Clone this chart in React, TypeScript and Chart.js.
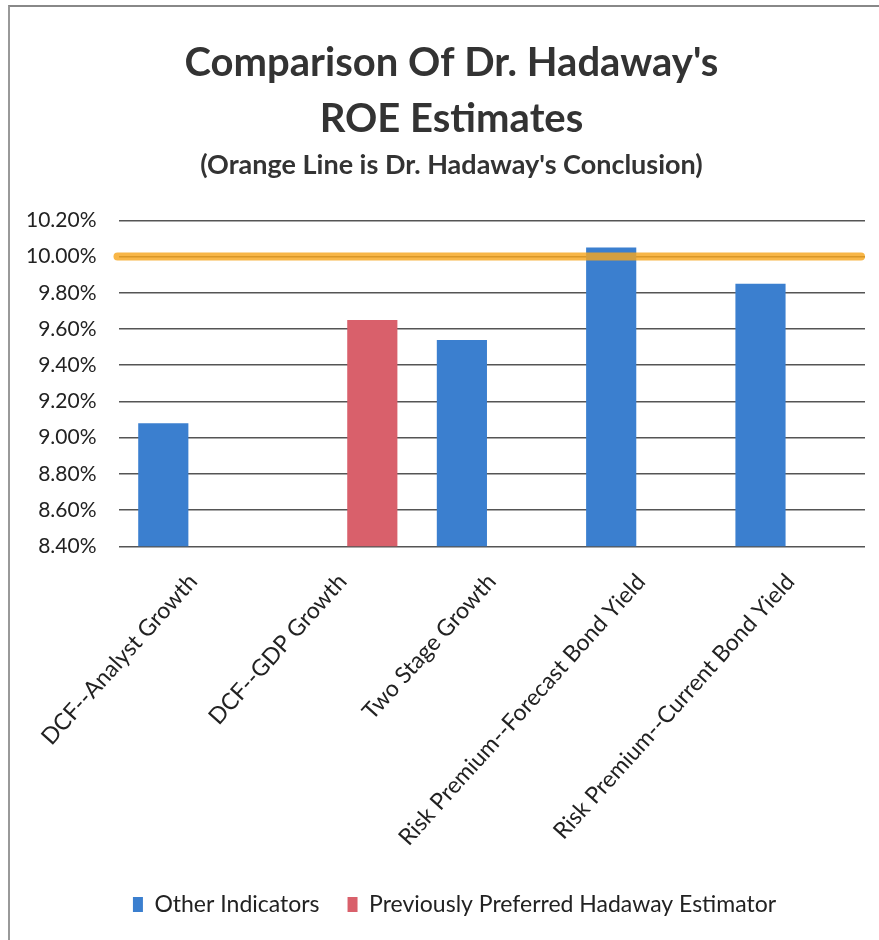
import React, { useEffect, useRef } from "react";
import { Chart, registerables } from "chart.js";

Chart.register(...registerables);

const categories = [
  "DCF--Analyst Growth",
  "DCF--GDP Growth",
  "Two Stage Growth",
  "Risk Premium--Forecast Bond Yield",
  "Risk Premium--Current Bond Yield",
];
const otherIndicators: (number | null)[] = [9.08, null, 9.54, 10.05, 9.85];
const previouslyPreferred: (number | null)[] = [null, 9.65, null, null, null];
const seriesNames = ["Other Indicators", "Previously Preferred Hadaway Estimator"];
const conclusionValue = 10.0;
const yMin = 8.4;
const yMax = 10.2;
const yStep = 0.2;
const titleLines = ["Comparison Of Dr. Hadaway's", "ROE Estimates"];
const subtitleText = "(Orange Line is Dr. Hadaway's Conclusion)";

const FONT = "Lato, 'Open Sans', sans-serif";

const conclusionLine = {
  id: "conclusionLine",
  afterDatasetsDraw(chart: any) {
    const { ctx, chartArea, scales } = chart;
    const y = scales.y.getPixelForValue(conclusionValue);
    ctx.save();
    ctx.lineCap = "round";
    ctx.strokeStyle = "rgba(246,166,30,0.82)";
    ctx.lineWidth = 8;
    ctx.beginPath();
    ctx.moveTo(chartArea.left - 1, y);
    ctx.lineTo(chartArea.right - 4, y);
    ctx.stroke();
    ctx.restore();
  },
};

// The original page is centred a little to the right of the canvas centre.
const shiftTextBoxes = {
  id: "shiftTextBoxes",
  afterLayout(chart: any) {
    for (const b of chart.boxes) {
      if ("axis" in b) continue;
      const dx = b === chart.legend ? 20 : 17;
      b.left += dx;
      b.right += dx;
    }
  },
};

export default function App() {
  const ref = useRef<HTMLCanvasElement | null>(null);

  useEffect(() => {
    document.body.style.margin = "0";
    const canvas = ref.current;
    if (!canvas) return;
    const chart = new Chart(canvas, {
      type: "bar",
      data: {
        labels: categories,
        datasets: [
          {
            label: seriesNames[0],
            data: otherIndicators,
            backgroundColor: "#3b7fcf",
            categoryPercentage: 0.8,
            barPercentage: 0.84,
          },
          {
            label: seriesNames[1],
            data: previouslyPreferred,
            backgroundColor: "#d9606b",
            categoryPercentage: 0.8,
            barPercentage: 0.84,
          },
        ],
      },
      plugins: [conclusionLine, shiftTextBoxes],
      options: {
        animation: false,
        responsive: false,
        maintainAspectRatio: false,
        layout: { padding: { left: 4, right: 14, top: 0, bottom: 14 } },
        plugins: {
          title: {
            display: true,
            text: titleLines,
            color: "#333",
            font: { family: FONT, size: 40, weight: "bold", lineHeight: 1.4 },
            padding: { top: 35, bottom: 2 },
          },
          subtitle: {
            display: true,
            text: subtitleText,
            color: "#333",
            font: { family: FONT, size: 27, weight: "bold", lineHeight: 1.2 },
            padding: { top: 0, bottom: 39 },
          },
          legend: {
            display: true,
            position: "bottom",
            labels: {
              boxWidth: 10,
              boxHeight: 15,
              padding: 28,
              color: "#222",
              font: { family: FONT, size: 23 },
            },
          },
          tooltip: { enabled: false },
        },
        scales: {
          x: {
            grid: { display: false },
            border: { display: false },
            ticks: {
              color: "#222",
              maxRotation: 48,
              minRotation: 48,
              padding: 14,
              font: { family: FONT, size: 23 },
            },
          },
          y: {
            min: yMin,
            max: yMax,
            border: { display: false },
            grid: { color: "#555", lineWidth: 1.6, drawTicks: false },
            ticks: {
              stepSize: yStep,
              padding: 22,
              color: "#222",
              font: { family: FONT, size: 21 },
              callback: (v: any) => Number(v).toFixed(2) + "%",
            },
          },
        },
      },
    });
    return () => chart.destroy();
  }, []);

  return (
    <div style={{ position: "relative", width: 879, height: 940, background: "#fff" }}>
      <div
        style={{
          position: "absolute",
          left: 8,
          top: 5,
          right: 0,
          bottom: 0,
          borderTop: "2px solid #888",
          borderLeft: "2px solid #999",
          pointerEvents: "none",
        }}
      />
      <canvas ref={ref} width={879} height={940} style={{ position: "absolute", left: 0, top: 0 }} />
    </div>
  );
}
